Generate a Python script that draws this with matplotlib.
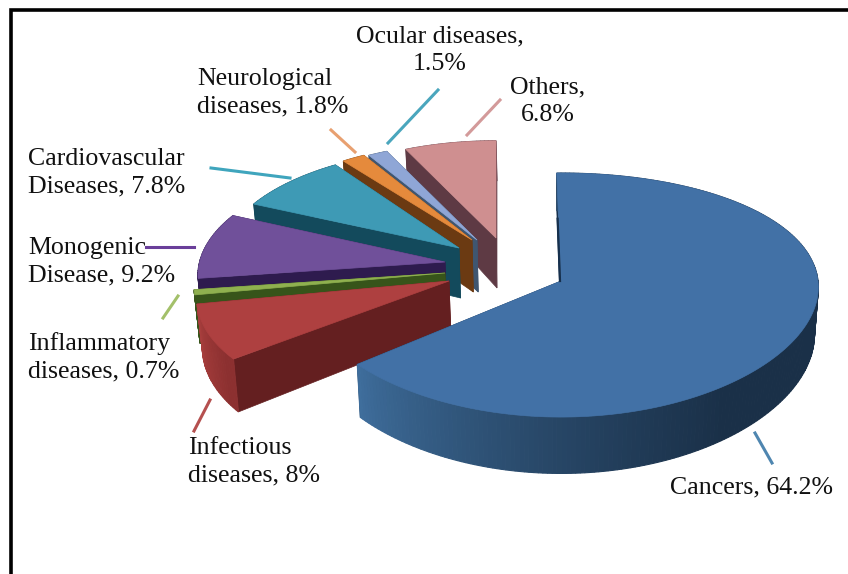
import numpy as np
import matplotlib
matplotlib.use("Agg")
import matplotlib.pyplot as plt
from matplotlib.colors import to_rgb
from matplotlib.patches import Polygon

# clockwise from 12 o'clock
names = ["Cancers", "Infectious", "Inflammatory", "Monogenic",
         "Cardiovascular", "Neurological", "Ocular", "Others"]
values = [64.2, 8, 0.7, 9.2, 7.8, 1.8, 1.5, 6.8]
labels = ["Cancers, 64.2%", "Infectious\ndiseases, 8%", "Inflammatory\ndiseases, 0.7%",
          "Monogenic\nDisease, 9.2%", "Cardiovascular\nDiseases, 7.8%",
          "Neurological\ndiseases, 1.8%", "Ocular diseases,\n1.5%", "Others,\n6.8%"]

top_colors = ["#4271a6", "#ae4040", "#8fb04f", "#70509a", "#3e9ab5", "#e58a3c", "#8fa6d6", "#cf8f90"]
cut_colors = ["#16304d", "#641f20", "#37541a", "#2e1b4e", "#134a5c", "#6b3a12", "#3f5670", "#5e3a44"]
arc_light = ["#40709f", "#a83e3d", "#37541a", "#2e1b4e", "#134a5c", "#6b3a12", "#3f5670", "#5e3a44"]
arc_dark = ["#1a3048", "#8c3030", "#37541a", "#2e1b4e", "#134a5c", "#6b3a12", "#3f5670", "#5e3a44"]
line_colors = ["#4f86b0", "#b5504f", "#a3c06a", "#6a3f9a", "#3fa5bd", "#e8a070", "#4aa6bd", "#d39a9a"]

# where each slice sits after being pulled out of the pie, pixels
apex_x = [561, 449, 445, 445, 459, 472, 477, 496]
apex_y = [281, 281, 273, 262, 248, 240, 240, 238]
scale = [1.0, 0.97, 0.97, 0.955, 0.92, 0.9, 0.9, 0.9]
depth = [47, 47, 47, 47, 50, 52, 52, 50]
kx = [0.05, 0.15, 0.115, 0.115, 0.115, 0.115, 0.115, 0.115]
# small angle corrections for the way the exploded slices were drawn, degrees
start_nudge = [0, 1.5, 0.5, 0.5, 0, 0, 0, 0]
end_nudge = [0, 0, 0.5, 0.5, 2.5, 0, 0, 1]

RX, RY, K, SHRINK, START = 257, 120.4, 0.115, 0.985, -1


def project(i, ang, r=1.0):
    a = np.radians(ang)
    X, v = r * np.sin(a), -r * np.cos(a)
    return (apex_x[i] + X * RX * scale[i] / (1 - kx[i] * v),
            apex_y[i] + v * RY * scale[i] / (1 - K * v))


def drop(i, ang):
    # same rim point on the underside of the pie
    x, y = project(i, ang)
    v = -np.cos(np.radians(ang))
    return 561 + (x - 561) * SHRINK, y + depth[i] * (1 + 0.2 * v)


fig = plt.figure(figsize=(8.48, 5.74), dpi=100)
ax = fig.add_axes([0, 0, 1, 1])
ax.set_xlim(0, 848)
ax.set_ylim(574, 0)
ax.axis("off")

# frame, only top and left are inside the picture
ax.plot([11, 11, 848], [574, 10, 10], color="black", lw=2.6, solid_joinstyle="miter")

ends = START + 360 * np.cumsum(values) / sum(values)
starts = np.r_[START, ends[:-1]]

for i in [7, 6, 5, 4, 3, 2, 1, 0]:
    a0, a1 = starts[i] + start_nudge[i], ends[i] + end_nudge[i]
    angs = np.linspace(a0, a1, max(int(a1 - a0), 6))
    xs, ys = project(i, angs)
    bxs, bys = drop(i, angs)
    ax0, ay0 = apex_x[i], apex_y[i]
    bx0, by0 = 561 + (ax0 - 561) * SHRINK, ay0 + depth[i]

    # the two straight cut faces
    for j in [0, -1]:
        ax.add_patch(Polygon([(ax0, ay0), (xs[j], ys[j]), (bxs[j], bys[j]), (bx0, by0)],
                             fc=cut_colors[i], ec=cut_colors[i], lw=0.5))

    # outer wall, shaded along x
    light, dark = np.array(to_rgb(arc_light[i])), np.array(to_rgb(arc_dark[i]))
    for j in range(len(xs) - 1):
        t = np.clip((xs[j] - xs.min()) / (0.8 * (xs.max() - xs.min()) + 1e-6), 0, 1) ** 0.7
        c = light + (dark - light) * t
        ax.add_patch(Polygon([(xs[j], ys[j]), (xs[j + 1], ys[j + 1]),
                              (bxs[j + 1], bys[j + 1]), (bxs[j], bys[j])],
                             fc=c, ec=c, lw=0.8))

    # top
    ax.add_patch(Polygon(np.c_[np.r_[ax0, xs], np.r_[ay0, ys]],
                         fc=top_colors[i], ec=top_colors[i], lw=0.5))

# dark sliver of the cancers cut face along the gap
sx, sy = project(0, START, 0.55)
ax.plot([sx - 1, apex_x[0] - 1], [sy, apex_y[0]], color=cut_colors[0], lw=1.6)

# leader lines, one per slice
leader_x = [(755, 772), (210, 194), (178, 163), (146, 194), (211, 290), (355, 331), (388, 438), (467, 500)]
leader_y = [(433, 463), (400, 431), (296, 318), (247, 247), (168, 178), (152, 130), (143, 90), (135, 100)]
for i in range(len(values)):
    ax.plot(leader_x[i], leader_y[i], color=line_colors[i], lw=2.2)

text_x = [670, 188, 28, 28, 28, 197, 440, 548]
text_y = [487, 462, 357, 262, 173, 93, 50, 101]
align = ["left", "left", "left", "left", "left", "left", "center", "center"]
for i in range(len(values)):
    ax.text(text_x[i], text_y[i], labels[i], ha=align[i], va="center", multialignment=align[i],
            family="Liberation Serif", fontsize=18.6, color="#111111", linespacing=1.3)

fig.savefig("out.png", dpi=100)
